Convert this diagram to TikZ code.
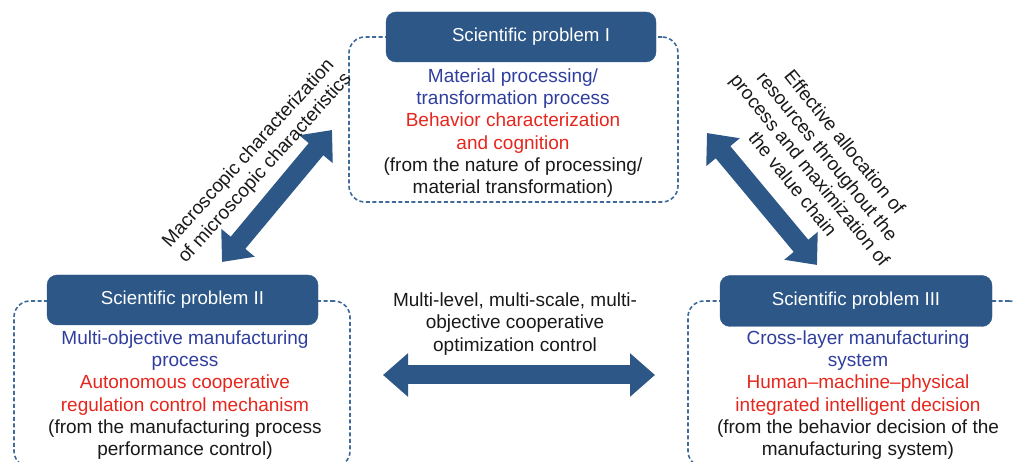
\documentclass[tikz,border=0pt]{standalone}
\usepackage{fontspec}
\setmainfont{Liberation Sans}
\usetikzlibrary{arrows.meta}
\definecolor{boxblue}{HTML}{2C5787}
\definecolor{dashblue}{HTML}{3F6A9A}
\definecolor{txtblue}{HTML}{2F3E9E}
\definecolor{txtred}{HTML}{E5261D}
\begin{document}
\begin{tikzpicture}[
			x = 1pt, y = -1pt,
			every node/.style = {font=\fontsize{19}{22.3}\selectfont, text=black!90},
			header/.style = {fill=boxblue, draw=boxblue, rounded corners=10pt, inner sep=0pt,
				text=white, font=\fontsize{18.7}{22}\selectfont},
			frame/.style = {draw=dashblue, dash pattern=on 4pt off 2.5pt, line width=1.6pt,
				rounded corners=16pt, inner sep=0pt},
			body/.style = {align=center},
			bigarrow/.style = {boxblue, line width=19pt,
				{Triangle[length=25pt,width=42pt]}-{Triangle[length=25pt,width=42pt]}}
			]
			\useasboundingbox (0,0) rectangle (1013,462);

			% dashed frames
			\node[frame, minimum width=329pt, minimum height=165pt] (frameI) at (513.5,119.5) {};
			\node[frame, minimum width=336pt, minimum height=166pt] (frameII) at (182,384) {};
			\node[frame, minimum width=337pt, minimum height=166pt] (frameIII) at (856.5,384) {};

			% headers
			\node[header, minimum width=270pt, minimum height=50pt] (hdI) at (521,37) {\hspace*{20pt}Scientific problem I};
			\node[header, minimum width=271pt, minimum height=50pt] (hdII) at (182.5,300) {Scientific problem II};
			\node[header, minimum width=272pt, minimum height=51pt] (hdIII) at (856,301) {Scientific problem III};

			% contents
			\node[body] (txtI) at (513,133) {\textcolor{txtblue}{Material processing/}\\
				\textcolor{txtblue}{transformation process}\\
				\textcolor{txtred}{Behavior characterization}\\
				\textcolor{txtred}{and cognition}\\
				(from the nature of processing/\\
				material transformation)};
			\node[body] (txtII) at (185,395) {\textcolor{txtblue}{Multi-objective manufacturing}\\
				\textcolor{txtblue}{process}\\
				\textcolor{txtred}{Autonomous cooperative}\\
				\textcolor{txtred}{regulation control mechanism}\\
				(from the manufacturing process\\
				performance control)};
			\node[body] (txtIII) at (858,395) {\textcolor{txtblue}{Cross-layer manufacturing}\\
				\textcolor{txtblue}{system}\\
				\textcolor{txtred}{Human--machine--physical}\\
				\textcolor{txtred}{integrated intelligent decision}\\
				(from the behavior decision of the\\
				manufacturing system)};

			% arrows between the problems
			\coordinate (a1) at (222,262);
			\coordinate (a2) at (332,130);
			\coordinate (b1) at (707,133);
			\coordinate (b2) at (817,265);
			\coordinate (c1) at (383,375);
			\coordinate (c2) at (655,375);
			\draw[bigarrow] (a1) -- (a2);
			\draw[bigarrow] (b1) -- (b2);
			\draw[bigarrow] (c1) -- (c2);

			\node[body, rotate=48] (lblI) at (257,161) {Macroscopic characterization\\of microscopic characteristics};
			\node[body, rotate=-51] (lblII) at (819,163) {Effective allocation of\\resources throughout the\\process and maximization of\\the value chain};
			\node[body] (lblIII) at (515,324) {Multi-level, multi-scale, multi-\\objective cooperative\\optimization control};

		\end{tikzpicture}
\end{document}
